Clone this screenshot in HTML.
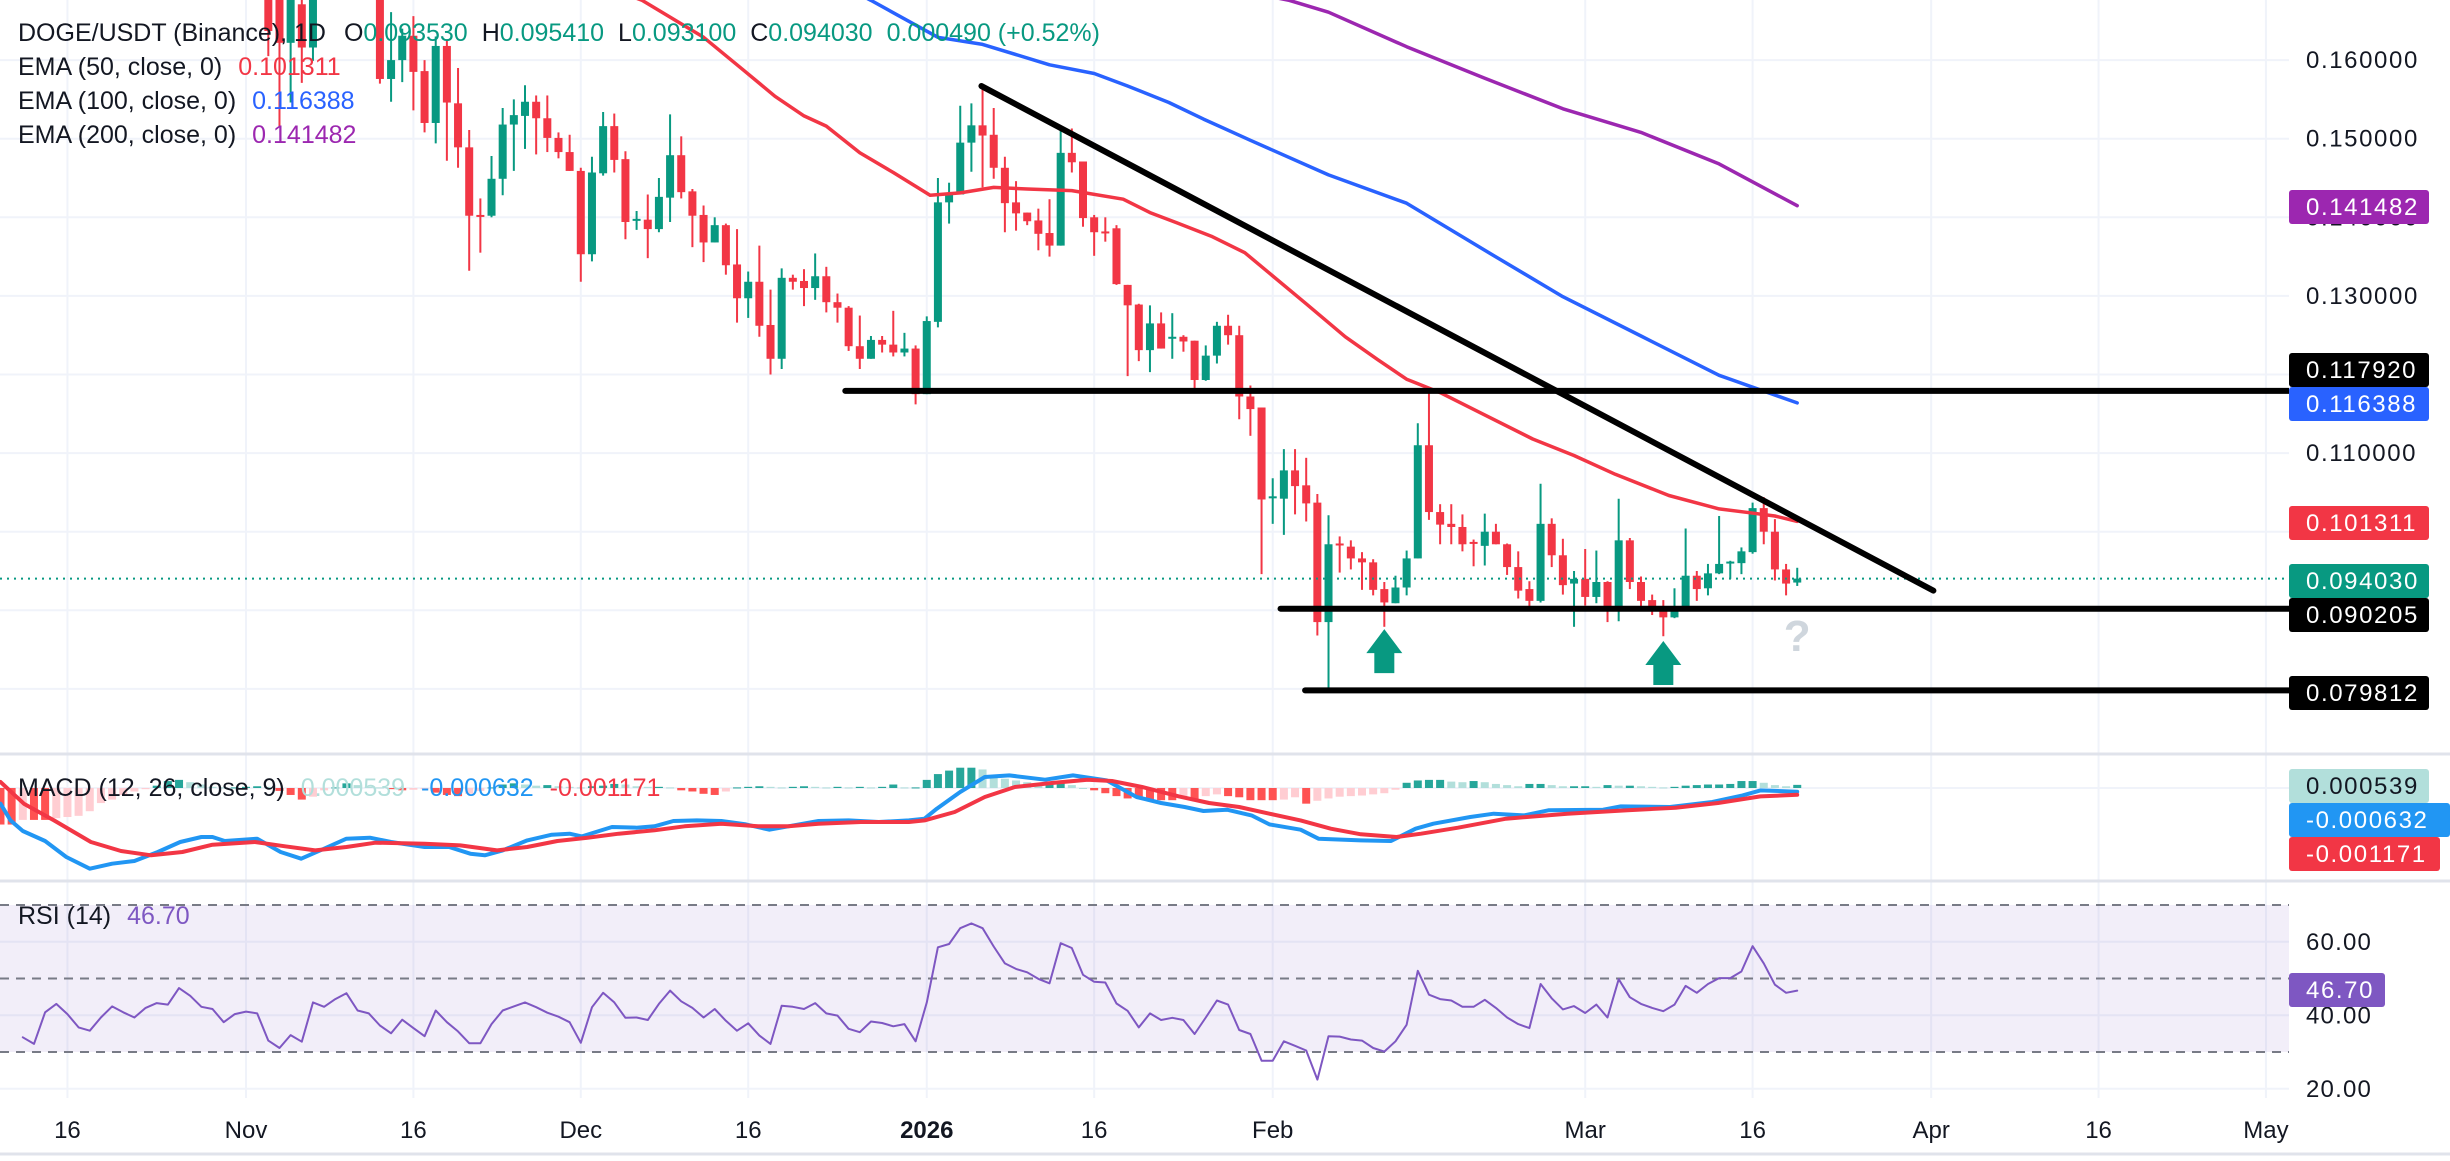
<!DOCTYPE html>
<html><head><meta charset="utf-8"><title>DOGE/USDT 1D</title>
<style>
html,body{margin:0;padding:0;background:#fff;}
body{width:2450px;height:1156px;overflow:hidden;font-family:"Liberation Sans",sans-serif;}
svg text{font-family:"Liberation Sans",sans-serif;}
</style></head>
<body>
<svg id="chart" xmlns="http://www.w3.org/2000/svg" width="2450" height="1156" viewBox="0 0 2450 1156">
<defs>
<clipPath id="clipMain"><rect x="0" y="0" width="2289" height="753"/></clipPath>
<clipPath id="clipMacd"><rect x="0" y="756" width="2289" height="124"/></clipPath>
<clipPath id="clipRsi"><rect x="0" y="884" width="2289" height="214"/></clipPath>
</defs>
<rect x="0" y="0" width="2450" height="1156" fill="#ffffff"/>
<g id="grid"></g>
<g id="rsiBg"></g>
<g id="mainMarks" clip-path="url(#clipMain)"></g>
<g id="macdMarks" clip-path="url(#clipMacd)"></g>
<g id="rsiMarks" clip-path="url(#clipRsi)"></g>
<g id="axes"></g>
<g id="legend">
<text x="18" y="41" font-size="25" fill="#131722">DOGE/USDT (Binance), 1D<tspan dx="18">O</tspan><tspan fill="#089981">0.093530</tspan><tspan dx="14">H</tspan><tspan fill="#089981">0.095410</tspan><tspan dx="14">L</tspan><tspan fill="#089981">0.093100</tspan><tspan dx="14">C</tspan><tspan fill="#089981">0.094030</tspan><tspan dx="14" fill="#089981">0.000490 (+0.52%)</tspan></text>
<text x="18" y="75" font-size="25" fill="#131722">EMA (50, close, 0)<tspan dx="16" fill="#f23645">0.101311</tspan></text>
<text x="18" y="109" font-size="25" fill="#131722">EMA (100, close, 0)<tspan dx="16" fill="#2962ff">0.116388</tspan></text>
<text x="18" y="143" font-size="25" fill="#131722">EMA (200, close, 0)<tspan dx="16" fill="#9c27b0">0.141482</tspan></text>
<text x="18" y="796" font-size="25" fill="#131722">MACD (12, 26, close, 9)<tspan dx="16" fill="#b2dfdb">0.000539</tspan><tspan dx="16" fill="#2196f3">-0.000632</tspan><tspan dx="16" fill="#f23645">-0.001171</tspan></text>
<text x="18" y="924" font-size="25" fill="#131722">RSI (14)<tspan dx="16" fill="#7e57c2">46.70</tspan></text>
</g>
</svg>
<script>
// ---------- DATA ----------
const candleStartDay = 2; // day index relative to Nov 1, 2025
const opens = [.1700,.1710,.1622,.1671,.1616,.1690,.1750,.1760,.1720,.1740,.1720,.1576,.1600,.1631,.1586,.1520,.1618,.1545,.1489,.1403,.1402,.1449,.1518,.1529,.1547,.1526,.1501,.1483,
.1459,.1353,.1456,.1516,.1474,.1397,.1397,.1385,.1425,.1479,.1433,.1403,.1368,.1390,.1340,.1297,.1318,.1263,.1220,.1323,.1319,.1310,.1325,.1292,.1285,.1236,.1220,.1244,.1238,.1228,.1233,.1175,.1267,.1419,.1429,.1495,.1517,.1505,.1463,.1419,.1406,.1396,.1380,.1364,.1482,.1471,.1400,.1382,.1386,.1314,.1289,.1231,.1265,.1246,.1248,.1243,.1193,.1224,.1262,.1250,.1172,.1158,.1043,.1042,.1078,.1059,.1037,.0885,.0985,.0981,.0966,.0961,.0927,.0909,.0929,.0966,.1110,.1025,.1010,.1006,.0987,.0982,.1000,.0984,.0955,.0927,.0912,.1010,.0970,.0934,.0940,.0917,.0936,.0899,.0989,.0936,.0913,.0900,.0891,.0904,.0944,.0928,.0947,.0961,.0960,.0974,.1030,.1000,.0952,.09353];
const highs = [.1720,.1730,.1720,.1700,.1710,.1780,.1800,.1790,.1760,.1750,.1740,.1661,.1640,.1656,.1600,.1630,.1625,.1590,.1511,.1424,.1478,.1539,.1550,.1568,.1555,.1555,.1508,.1505,
.1463,.1477,.1534,.1532,.1484,.1408,.1429,.1450,.1531,.1503,.1436,.1415,.1400,.1392,.1385,.1331,.1364,.1308,.1335,.1327,.1334,.1354,.1337,.1303,.1287,.1275,.1249,.1249,.1281,.1253,.1237,.1274,.1450,.1444,.1542,.1545,.1568,.1539,.1477,.1446,.1406,.1411,.1423,.1510,.1513,.1471,.1403,.1400,.1390,.1314,.1290,.1288,.1279,.1278,.1250,.1243,.1237,.1267,.1276,.1262,.1186,.1158,.1068,.1105,.1105,.1094,.1048,.1021,.0994,.0989,.0974,.0965,.0936,.0944,.0976,.1138,.1177,.1035,.1035,.1022,.0990,.1023,.1010,.0985,.0975,.0937,.1061,.1017,.0991,.0950,.0978,.0976,.0937,.1042,.0992,.0943,.0920,.0913,.0928,.1004,.0950,.0959,.1020,.0963,.0980,.1037,.1044,.1016,.0959,.09541];
const lows = [.1605,.1516,.1546,.1571,.1599,.1685,.1720,.1700,.1690,.1680,.1570,.1547,.1572,.1536,.1508,.1494,.1472,.1463,.1332,.1355,.1400,.1428,.1459,.1487,.1480,.1483,.1475,.1459,
.1318,.1344,.1453,.1457,.1372,.1384,.1348,.1381,.1394,.1424,.1362,.1343,.1368,.1327,.1266,.1272,.1248,.1200,.1207,.1308,.1287,.1295,.1279,.1266,.1230,.1207,.1220,.1228,.1223,.1223,.1162,.1175,.1260,.1392,.1429,.1458,.1438,.1449,.1381,.1383,.1390,.1358,.1350,.1364,.1457,.1388,.1351,.1369,.1314,.1198,.1217,.1203,.1233,.1220,.1229,.1177,.1192,.1214,.1238,.1143,.1122,.0946,.1010,.0996,.1022,.1013,.0868,.0800,.0948,.0952,.0926,.0919,.0879,.0909,.0919,.0966,.1015,.0984,.0984,.0975,.0956,.0957,.0984,.0945,.0915,.0900,.0910,.0955,.0920,.0879,.0906,.0909,.0885,.0886,.0927,.0902,.0894,.0867,.0890,.0903,.0912,.0919,.0946,.0940,.0946,.0972,.0984,.0938,.0919,.09310];
const closes = [.1637,.1622,.1700,.1616,.1690,.1750,.1760,.1720,.1740,.1720,.1576,.1600,.1631,.1585,.1520,.1618,.1546,.1489,.1402,.1402,.1449,.1518,.1530,.1547,.1526,.1501,.1483,.1459,
.1353,.1457,.1516,.1473,.1394,.1398,.1385,.1426,.1479,.1432,.1402,.1368,.1390,.1339,.1297,.1318,.1262,.1220,.1323,.1318,.1310,.1325,.1292,.1285,.1236,.1220,.1244,.1238,.1228,.1233,.1175,.1268,.1419,.1430,.1495,.1517,.1504,.1463,.1418,.1405,.1395,.1379,.1364,.1482,.1470,.1399,.1381,.1381,.1315,.1288,.1231,.1265,.1233,.1248,.1242,.1193,.1224,.1262,.1250,.1172,.1156,.1041,.1045,.1078,.1058,.1036,.0885,.0984,.0984,.0966,.0961,.0926,.0910,.0929,.0966,.1110,.1025,.1009,.1006,.0984,.0986,.1000,.0984,.0955,.0925,.0912,.1010,.0970,.0932,.0940,.0917,.0936,.0899,.0989,.0936,.0912,.0900,.0891,.0904,.0944,.0927,.0947,.0959,.0962,.0975,.1030,.1000,.0952,.0934,.09403];

const ema50Days = [20,35.5,41,44.6,47.4,50,52,55,58,61.3,64,67,70,74,78.6,81,83.4,86.5,89.5,95,98.5,101.4,104,107,110.5,115.3,119,122.7,127.5,132,134.8,137,139];
const ema50Vals = [.176,.1676,.1629,.1587,.1554,.1529,.1516,.1482,.1457,.1428,.1431,.1438,.1436,.1434,.1423,.1406,.1393,.1376,.1355,.1290,.1248,.1219,.1194,.1177,.1152,.1118,.1097,.1073,.1046,.1029,.1024,.1020,.101311];
const ema100Days = [50,56,62,66,72,76,79,82.7,85.8,90,97,104,111,118,125,132,139];
const ema100Vals = [.172,.1676,.1629,.1620,.1594,.1583,.1567,.1546,.1525,.1498,.1454,.1418,.1358,.1299,.1249,.1199,.116388];
const ema200Days = [85,93.5,97,104,111,118,125,132,139];
const ema200Vals = [.170,.1676,.1661,.1617,.1577,.1538,.1508,.1468,.141482];

const trendDays = [65.9,151.2];
const trendPrices = [0.1567,0.0925];
const levelPrices = [0.11792,0.090205,0.079812];
const levelStartDays = [53.7,92.7,94.9];
const arrowDays = [102,127];
const arrowTipPrices = [0.0876,0.0861];
const lastPrice = 0.09403;

const macdDays = [-22,-21.1,-20,-18,-16.1,-14,-12,-10,-7.9,-5.9,-4,-3,-1.9,1,3.1,4.95,7,9,11.1,13,16,18.2,20.1,21.4,23,25.2,27.4,29,30.1,32.8,35,36.6,38.3,40.4,42.6,44.8,46.9,48.6,51.3,54,56.7,59.4,60.8,61.9,64,66.2,68.4,71.6,74.1,77.1,79.8,82,84.1,85.8,87.9,90.1,91.7,94.5,96.1,99.9,102.6,104.8,106.4,109.7,111.8,114.5,116.7,121.6,123.2,127.6,131.4,134.1,135.7,139];
const macdVals = [-.00271,-.00558,-.00742,-.00914,-.0119,-.01391,-.01305,-.01259,-.01104,-.00931,-.00845,-.00845,-.00914,-.00874,-.01104,-.01219,-.01046,-.00874,-.00857,-.00931,-.01018,-.01018,-.01133,-.01161,-.01075,-.00903,-.00805,-.00788,-.00834,-.00673,-.00684,-.00661,-.00569,-.00558,-.00569,-.00627,-.00719,-.00661,-.00569,-.00558,-.00587,-.00558,-.00529,-.00357,-.00069,.00189,.00218,.00143,.00218,.00132,-.00156,-.00259,-.00328,-.00397,-.00374,-.00472,-.00627,-.00719,-.00874,-.00903,-.00914,-.00702,-.00615,-.00500,-.00443,-.00472,-.00385,-.00374,-.00317,-.00328,-.00242,-.00127,-.00041,-.000632];
const signalDays = [-22,-19.9,-17.2,-13.9,-11.2,-8.5,-5.7,-3,0.8,3.5,6.2,9,11.6,16,19.2,22.5,25.2,27.9,30.6,33.4,36.6,39.3,42.6,45.9,48.6,51.3,55.1,59.4,60.8,63.5,66.2,68.9,72.2,75.4,77.6,80.3,83.6,86.3,89,91.7,94.5,97.2,99.9,103.1,105.3,108.6,112.9,118.4,123.8,128.1,131.9,135.7,139];
const signalVals = [.00103,-.00271,-.00558,-.00931,-.01087,-.01161,-.01104,-.00977,-.00931,-.01006,-.01075,-.01018,-.00943,-.00960,-.00989,-.01075,-.01018,-.00914,-.00857,-.00788,-.00730,-.00661,-.00615,-.00661,-.00661,-.00615,-.00587,-.00587,-.00558,-.00414,-.00156,.00017,.00086,.00143,.00120,.00017,-.00144,-.00259,-.00328,-.00443,-.00558,-.00702,-.00799,-.00845,-.00788,-.00684,-.00529,-.00443,-.00385,-.00340,-.00259,-.00144,-.001171];
const histStartDay = -22;
const histVals = [-.0063,-.0063,-.0055,-.0055,-.0055,-.0052,-.0050,-.0048,-.0040,-.0026,-.0020,-.0012,-.0006,-.0002,.0004,.0012,.0014,.0010,.0006,.0002,.0001,.0001,.0002,.0003,.0002,-.0005,-.0012,-.0020,-.0015,-.0004,.0001,.0008,.0005,.0002,.0001,-.0002,-.0004,-.0003,-.0002,-.0008,-.0012,-.0014,-.0010,-.0005,.0001,.0006,.0008,.0006,.0004,.0005,.0003,.0002,.0001,.0003,.0004,.0007,.0006,.0003,.0002,.0002,.0001,-.0004,-.0006,-.0010,-.0012,-.0006,.0001,.0002,.0003,.0002,.0001,.0002,.0003,.0002,.0001,.0002,.0001,.0002,.0001,.0002,.0006,
.0001,.0001,.0014,.0024,.0030,.0035,.0035,.0032,.0019,.0016,.0013,.0010,.0007,.0010,.0010,.0005,.0000,-.0004,-.0009,-.0014,-.0018,-.0018,-.0021,-.0021,-.0021,-.0017,-.0020,-.0014,-.0011,-.0014,-.0016,-.0021,-.0021,-.0021,-.0020,-.0016,-.0027,-.0022,-.0018,-.0015,-.0014,-.0013,-.0011,-.0009,-.0003,.0009,.0013,.0014,.0014,.0011,.0010,.0012,.0010,.0007,.0005,.0003,.0007,.0007,.0005,.0003,.0003,.0003,.0002,.0005,.0004,.0004,.0003,.0002,.0001,.0002,.0004,.0005,.0006,.0006,.0007,.0012,.0012,.0009,.0005,.0003,.00054];

const rsiStartDay = -20;
const rsiVals = [34.0,32.2,40.8,43.1,40.3,36.7,35.8,39.4,42.4,40.8,39.4,42.0,43.3,42.9,47.4,45.3,42.3,41.7,38.1,40.3,41.0,40.5,33.1,31.1,34.6,32.8,43.5,42.3,44.4,46.0,41.3,40.5,37.2,35.1,38.8,36.5,34.3,41.3,38.1,35.6,32.4,32.4,37.6,41.3,42.4,43.5,42.2,40.7,39.6,38.1,32.5,42.2,46.1,43.5,39.3,39.4,38.7,43.1,46.7,43.8,42.0,39.4,41.7,38.5,35.8,37.8,34.45,32.2,42.6,42.3,41.7,43.3,40.5,39.9,36.3,35.4,38.3,37.9,37.0,37.6,
32.9,43.5,58.5,59.4,63.7,65.0,63.7,58.7,54.1,52.6,51.7,49.9,48.7,59.6,58.3,51.0,49.1,48.9,43.2,41.2,36.7,40.5,38.7,39.3,38.7,34.9,39.4,44.0,42.9,36.0,34.9,27.6,27.6,32.9,31.7,30.4,22.5,34.3,34.2,33.4,33.1,31.1,30.1,32.9,37.4,52.1,45.6,44.4,44.0,42.3,42.3,44.2,42.0,39.4,37.6,36.5,48.5,44.6,41.6,42.5,40.6,42.9,39.4,49.8,44.9,43.1,42.0,41.1,42.9,48.0,46.1,48.5,50.1,50.1,51.9,58.8,54.1,48.3,46.1,46.7];

const tickDays = [-16,0,15,30,45,61,76,92,120,135,151,166,181];
const tickLabels = ["16","Nov","16","Dec","16","2026","16","Feb","Mar","16","Apr","16","May"];
const priceTicks = [0.16,0.15,0.14,0.13,0.12,0.11,0.10,0.09,0.08];
const rsiTicks = [60,40,20];

// ---------- SCALES ----------
const PLOT_R = 2289;
function xD(d){ return 246 + d*11.16; }
function yP(p){ return 60.1 + (0.16 - p)*7860; }
function yM(v){ return 788 - v*5800; }
function yR(v){ return 1052 - (v-30)*3.675; }

const NS = "http://www.w3.org/2000/svg";
function mk(tag, attrs, parent){
  const el = document.createElementNS(NS, tag);
  for (const k in attrs) el.setAttribute(k, attrs[k]);
  parent.appendChild(el);
  return el;
}
const grid = document.getElementById('grid');
const mainG = document.getElementById('mainMarks');
const macdG = document.getElementById('macdMarks');
const rsiG = document.getElementById('rsiMarks');
const axes = document.getElementById('axes');
const rsiBg = document.getElementById('rsiBg');

// grid verticals
tickDays.forEach((d,i)=>{
  const l = mk('line',{x1:xD(d),x2:xD(d),y1:0,y2:1098,stroke:'#f0f3fa','stroke-width':2},grid);
  
  
  const t = mk('text',{x:xD(d),y:1138,'font-size':24,'text-anchor':'middle',fill:'#131722','font-weight':tickLabels[i]==='2026'?'bold':'normal'},axes);
  t.textContent = tickLabels[i];
  
  
});
// price grid
priceTicks.forEach(p=>{
  const l = mk('line',{x1:0,x2:PLOT_R,y1:yP(p),y2:yP(p),stroke:'#f0f3fa','stroke-width':2},grid);
  
  
  const t = mk('text',{x:2306,y:yP(p)+8,'font-size':24,fill:'#131722','letter-spacing':'1.6'},axes);
  t.textContent = p.toFixed(6);
  
  
});
// pane separators
[754,881].forEach(y=>{
  const l = mk('line',{x1:0,x2:2450,y1:y,y2:y,stroke:'#e0e3eb','stroke-width':3},grid);
  
  
});
const bl = mk('line',{x1:0,x2:2450,y1:1154,y2:1154,stroke:'#e0e3eb','stroke-width':3},grid);


const mz = mk('line',{x1:0,x2:PLOT_R,y1:yM(0),y2:yM(0),stroke:'#f0f3fa','stroke-width':2},grid);


rsiTicks.forEach(v=>{
  const l = mk('line',{x1:0,x2:PLOT_R,y1:yR(v),y2:yR(v),stroke:'#f0f3fa','stroke-width':2},grid);
  
  
  const t = mk('text',{x:2306,y:yR(v)+8,'font-size':24,fill:'#131722','letter-spacing':'1.2'},axes);
  t.textContent = v.toFixed(2);
  
  
});

// RSI band + levels
const band = mk('rect',{x:0,y:yR(70),width:PLOT_R,height:yR(30)-yR(70),fill:'#7e57c2','fill-opacity':0.1},rsiBg);


[70,50,30].forEach(v=>{
  const l = mk('line',{x1:0,x2:PLOT_R,y1:yR(v),y2:yR(v),stroke:'#787b86','stroke-width':2,'stroke-dasharray':'9 7'},rsiBg);
  
  
});

// candles
for (let i=0;i<closes.length;i++){
  const d = candleStartDay + i;
  const x = xD(d);
  const up = closes[i] >= opens[i];
  const col = up ? '#089981' : '#f23645';
  const g = mk('g',{},mainG);
  
  
  mk('line',{x1:x,x2:x,y1:yP(highs[i]),y2:yP(lows[i]),stroke:col,'stroke-width':2},g);
  const top = yP(Math.max(opens[i],closes[i])), bot = yP(Math.min(opens[i],closes[i]));
  mk('rect',{x:x-4,y:top,width:8,height:Math.max(2,bot-top),fill:col},g);
}

function polyline(days, vals, yf, color, w, parent, name){
  const pts = days.map((d,i)=>xD(d).toFixed(1)+','+yf(vals[i]).toFixed(1)).join(' ');
  const pl = mk('polyline',{points:pts,fill:'none',stroke:color,'stroke-width':w,'stroke-linejoin':'round','stroke-linecap':'round'},parent);
  
  
  return pl;
}
polyline(ema200Days, ema200Vals, yP, '#9c27b0', 3.5, mainG, 'ema200-line');
polyline(ema100Days, ema100Vals, yP, '#2962ff', 3.5, mainG, 'ema100-line');
polyline(ema50Days, ema50Vals, yP, '#f23645', 3.5, mainG, 'ema50-line');

// last price dotted line
const lp = mk('line',{x1:0,x2:PLOT_R,y1:yP(lastPrice),y2:yP(lastPrice),stroke:'#089981','stroke-width':2,'stroke-dasharray':'2 5'},mainG);



// horizontal levels
levelPrices.forEach((p,i)=>{
  const l = mk('line',{x1:xD(levelStartDays[i]),x2:PLOT_R+4,y1:yP(p),y2:yP(p),stroke:'#000','stroke-width':6,'stroke-linecap':'round'},mainG);
  
  
});
// trendline
const tl = mk('line',{x1:xD(trendDays[0]),y1:yP(trendPrices[0]),x2:xD(trendDays[1]),y2:yP(trendPrices[1]),stroke:'#000','stroke-width':6,'stroke-linecap':'round'},mainG);



// arrows
arrowDays.forEach((d,i)=>{
  const x = xD(d), t = yP(arrowTipPrices[i]);
  const pts = [[x,t],[x+18,t+24],[x+10,t+24],[x+10,t+44],[x-10,t+44],[x-10,t+24],[x-18,t+24]].map(p=>p.join(',')).join(' ');
  const a = mk('polygon',{points:pts,fill:'#089981'},mainG);
  
  
});
const q = mk('text',{x:xD(139),y:651,'font-size':44,'font-weight':'bold','text-anchor':'middle',fill:'#cfd6dd'},mainG);
q.textContent = '?';



// MACD histogram
const histColors = [];
for (let i=0;i<histVals.length;i++){
  const v = histVals[i], prev = i>0 ? histVals[i-1] : v;
  let c;
  if (v >= 0) c = v >= prev ? '#26a69a' : '#b2dfdb';
  else c = v <= prev ? '#ff5252' : '#ffcdd2';
  const x = xD(histStartDay + i);
  const y0 = yM(0), y1 = yM(v);
  const r = mk('rect',{x:x-4,y:Math.min(y0,y1),width:8,height:Math.max(1,Math.abs(y1-y0)),fill:c},macdG);
  
  
}
polyline(macdDays, macdVals, yM, '#2196f3', 4, macdG, 'macd-line');
polyline(signalDays, signalVals, yM, '#f23645', 4, macdG, 'signal-line');

// RSI line
const rsiDays = rsiVals.map((v,i)=>rsiStartDay+i);
polyline(rsiDays, rsiVals, yR, '#7e57c2', 2, rsiG, 'rsi-line');

// right-axis value boxes
function box(y, w, bg, fg, txt, name){
  const g = mk('g',{},axes);
  
  
  mk('rect',{x:2289,y:y-17,width:w,height:34,rx:3,fill:bg},g);
  const t = mk('text',{x:2306,y:y+8,'font-size':24,fill:fg,'letter-spacing':'1.6'},g);
  t.textContent = txt;
}
box(207,'140','#9c27b0','#fff','0.141482','ema200-value-label');
box(370,'140','#000000','#fff','0.117920','resistance-value-label');
box(404,'140','#2962ff','#fff','0.116388','ema100-value-label');
box(523,'140','#f23645','#fff','0.101311','ema50-value-label');
box(581,'140','#089981','#fff','0.094030','last-price-label');
box(615,'140','#000000','#fff','0.090205','support-value-label');
box(693,'140','#000000','#fff','0.079812','low-support-value-label');
box(786,'140','#b2dfdb','#131722','0.000539','histogram-value-label');
box(820,'161','#2196f3','#fff','-0.000632','macd-value-label');
box(854,'151','#f23645','#fff','-0.001171','signal-value-label');
box(990,'96','#7e57c2','#fff','46.70','rsi-value-label');
</script>
</body></html>
